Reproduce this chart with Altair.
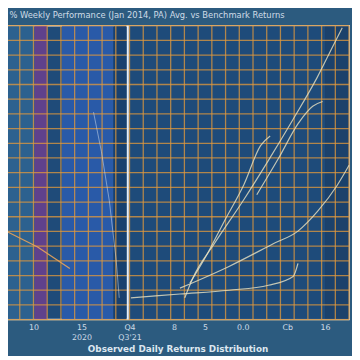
import altair as alt
import pandas as pd

# ---- text ----
title_text = "% Weekly Performance (Jan 2014, PA) Avg. vs Benchmark Returns"
x_title = "Observed Daily Returns Distribution"

# ---- x-axis ticks ----
tick_pos = [8, 22, 36, 49, 58, 69, 82, 93]
tick_lab = [["10"], ["15", "2020"], ["Q4", "Q3'21"], ["8"], ["5"], ["0.0"], ["Cb"], ["16"]]

# ---- background regions ----
region_name = ["west", "red", "blue", "dark", "east", "edge"]
region_x0 = [0, 8.3, 16.3, 31.3, 35.5, 93]
region_x1 = [8.3, 12.0, 31.3, 35.0, 93, 100]
region_color = ["#2f6593", "#6b3f8f", "#2b5db0", "#173e6c", "#1f4b7a", "#1b3f69"]

# ---- grid ----
grid_x = list(range(0, 101, 4))
grid_y = list(range(0, 101, 5))
divider_x = [35.5]

# ---- series ----
sA_x = [52.1, 54.4, 60.7, 69.3, 76.5, 83.7, 90.8, 95.1, 98.0]
sA_y = [7.4, 14.0, 25.8, 40.8, 54.2, 68.2, 82.6, 92.6, 99.3]
sB_x = [53.6, 58.7, 63.6, 69.3, 74.2, 77.0]
sB_y = [12.4, 22.4, 33.4, 45.8, 59.2, 62.5]
sC_x = [73.1, 79.4, 85.1, 89.4, 92.3]
sC_y = [42.5, 54.8, 66.6, 72.6, 74.2]
sD_x = [50.7, 65.0, 77.9, 85.1, 90.8, 96.6, 100.0]
sD_y = [10.7, 18.1, 25.8, 30.1, 36.8, 45.8, 52.5]
sE_x = [36.4, 50.7, 65.0, 76.5, 83.7, 85.1]
sE_y = [7.4, 8.7, 10.0, 11.7, 14.7, 19.1]
sF_x = [0.0, 9.2, 18.6]
sF_y = [30.1, 24.7, 17.4]
sG_x = [25.5, 27.8, 30.1, 32.1, 33.0]
sG_y = [70.6, 57.2, 40.5, 20.4, 7.4]

light_series = {"A": (sA_x, sA_y), "B": (sB_x, sB_y), "C": (sC_x, sC_y),
                "D": (sD_x, sD_y), "E": (sE_x, sE_y)}

W, H = 349, 299
xs = alt.Scale(domain=[0, 100], nice=False, zero=False)
ys = alt.Scale(domain=[0, 100], nice=False, zero=False)

label_expr = ""
for p, l in zip(tick_pos, tick_lab):
    label_expr += f"datum.value == {p} ? {l!r} : "
label_expr += "''"

regions = pd.DataFrame({"name": region_name, "x0": region_x0, "x1": region_x1})
rect = alt.Chart(regions).mark_rect(opacity=0.85).encode(
    x=alt.X("x0:Q", scale=xs,
            axis=alt.Axis(values=tick_pos, labelExpr=label_expr, title=x_title,
                          grid=False, ticks=False, domain=False,
                          labelColor="#cfdbe7", labelFontSize=8, labelPadding=4,
                          titleColor="#dde7f0", titleFontSize=9, titleFontWeight="bold",
                          titlePadding=3, labelFont="DejaVu Sans", titleFont="DejaVu Sans")),
    x2="x1:Q",
    color=alt.Color("name:N", scale=alt.Scale(domain=region_name, range=region_color), legend=None),
)

gx = alt.Chart(pd.DataFrame({"g": grid_x})).mark_rule(color="#e39a3c", strokeWidth=1.3, opacity=0.75).encode(
    x=alt.X("g:Q", scale=xs))
gy = alt.Chart(pd.DataFrame({"g": grid_y})).mark_rule(color="#e39a3c", strokeWidth=1.3, opacity=0.75).encode(
    y=alt.Y("g:Q", scale=ys, axis=None))
div = alt.Chart(pd.DataFrame({"d": divider_x})).mark_rule(color="#e8eef5", strokeWidth=2).encode(
    x=alt.X("d:Q", scale=xs))

rows = []
for k, (lx, ly) in light_series.items():
    for i, (a, b) in enumerate(zip(lx, ly)):
        rows.append({"s": k, "i": i, "x": a, "y": b})
lines_df = pd.DataFrame(rows)
lines = alt.Chart(lines_df).mark_line(color="#ebe3c2", strokeWidth=1.2, opacity=0.8, interpolate="monotone").encode(
    x=alt.X("x:Q", scale=xs), y=alt.Y("y:Q", scale=ys, axis=None), detail="s:N", order="i:Q")

f_df = pd.DataFrame({"x": sF_x, "y": sF_y})
fline = alt.Chart(f_df).mark_line(color="#e8a35a", strokeWidth=1.3, opacity=0.9).encode(
    x=alt.X("x:Q", scale=xs), y=alt.Y("y:Q", scale=ys, axis=None))
g_df = pd.DataFrame({"x": sG_x, "y": sG_y})
gline = alt.Chart(g_df).mark_line(color="#dfe6ee", strokeWidth=1, opacity=0.5).encode(
    x=alt.X("x:Q", scale=xs), y=alt.Y("y:Q", scale=ys, axis=None))

chart = alt.layer(rect, gx, gy, gline, div, lines, fline).properties(
    width=W, height=H,
    title=alt.TitleParams(title_text, anchor="start", fontSize=8.5, color="#cfdbe7",
                          font="DejaVu Sans", fontWeight="normal", offset=5, dx=6),
    background="#2c5b7f",
    padding={"left": -5, "top": 0, "right": 0, "bottom": 0},
).configure_view(fill="#1f4b79", stroke="#e8eef5", strokeWidth=1.5)

chart.save("out.html", embed_options={"renderer": "svg", "actions": False})
